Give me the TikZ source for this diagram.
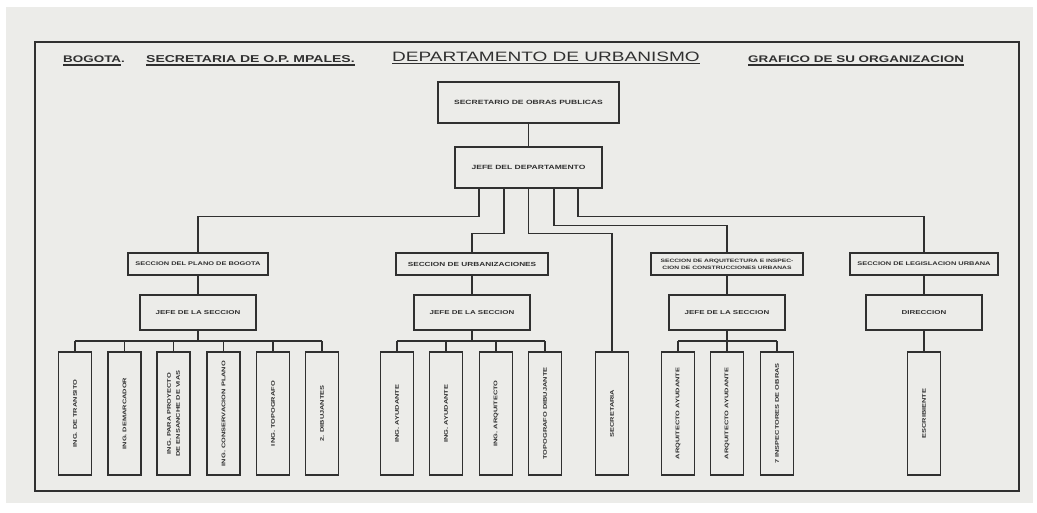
\documentclass[tikz,border=0pt]{standalone}
\usepackage{fontspec}
\newfontfamily\lettering[FakeStretch=1.4]{Liberation Sans}
\usetikzlibrary{calc}
\definecolor{ink}{RGB}{48,48,48}
\definecolor{paper}{RGB}{236,236,233}
\tikzstyle{box}=[rectangle,draw=ink,line width=1.4pt,inner sep=0pt,align=center,text=ink]
\tikzstyle{topbox}=[box,minimum height=41pt,font=\lettering\bfseries\fontsize{6.1}{7.4}\selectfont]
\tikzstyle{secbox}=[box,minimum height=22pt,font=\lettering\bfseries\fontsize{5.3}{6.6}\selectfont]
\tikzstyle{jefebox}=[box,minimum width=116pt,minimum height=35pt,font=\lettering\bfseries\fontsize{5.7}{7}\selectfont]
\tikzstyle{posbox}=[box,rotate=90,minimum width=123pt,minimum height=33pt,font=\lettering\bfseries\fontsize{5.3}{9}\selectfont]
\tikzstyle{head}=[text=ink,inner xsep=0pt,inner ysep=2.5pt,anchor=base west,font=\lettering\bfseries\fontsize{9.6}{11}\selectfont]
\tikzstyle{link}=[draw=ink,line width=1.2pt]

\begin{document}
\begin{tikzpicture}[x=1pt,y=-1pt]
    \useasboundingbox (0,0) rectangle (1037,512);
    \fill[white] (0,0) rectangle (1037,512);
    \fill[paper] (6,7) rectangle (1033,503);
    \draw[ink,line width=2pt] (35,42) rectangle (1019,491);

    \node[head] (bog) at (63,62) {BOGOTA.};
    \node[head,font=\lettering\bfseries\fontsize{10}{11}\selectfont] (secmp) at (146,62) {SECRETARIA DE O.P. MPALES.};
    \node[head,font=\lettering\fontsize{13.6}{15}\selectfont] (dept) at (392,61) {DEPARTAMENTO DE URBANISMO};
    \node[head] (graf) at (748,62) {GRAFICO DE SU ORGANIZACION};
    \draw[link,line width=1.8pt] (bog.south west) -- ($(bog.south east)+(-4,0)$);
    \draw[link,line width=1.8pt] (secmp.south west) -- (secmp.south east);
    \draw[link] (dept.south west) -- (dept.south east);
    \draw[link,line width=1.8pt] (graf.south west) -- (graf.south east);

    \node[topbox,minimum width=181pt] (secop) at (528.5,102.5) {SECRETARIO DE OBRAS PUBLICAS};
    \node[topbox,minimum width=147pt] (jefedep) at (528.5,167.5) {JEFE DEL DEPARTAMENTO};

    \node[secbox,minimum width=140pt] (sec1) at (198,264) {SECCION DEL PLANO DE BOGOTA};
    \node[secbox,minimum width=152pt,font=\lettering\bfseries\fontsize{5.9}{7}\selectfont] (sec2) at (472,264) {SECCION DE URBANIZACIONES};
    \node[secbox,minimum width=152pt,font=\lettering\bfseries\fontsize{4.8}{7}\selectfont] (sec3) at (727,264) {SECCION DE ARQUITECTURA E INSPEC-\\CION DE CONSTRUCCIONES URBANAS};
    \node[secbox,minimum width=148pt] (sec4) at (924,264) {SECCION DE LEGISLACION URBANA};

    \node[jefebox] (jefe1) at (198,312.5) {JEFE DE LA SECCION};
    \node[jefebox] (jefe2) at (472,312.5) {JEFE DE LA SECCION};
    \node[jefebox] (jefe3) at (727,312.5) {JEFE DE LA SECCION};
    \node[jefebox] (direc) at (924,312.5) {DIRECCION};

    \foreach \x/\t [count=\i] in {75/{ING. DE TRANSITO}, 124.5/{ING. DEMARCADOR},
        173.5/{ING. PARA PROYECTO\\DE ENSANCHE DE VIAS}, 223.5/{ING. CONSERVACION PLANO},
        273/{ING. TOPOGRAFO}, 322/{2. DIBUJANTES}} {
        \node[posbox] (a\i) at (\x,413.5) {\t};
    };
    \foreach \x/\t [count=\i] in {397/{ING. AYUDANTE}, 446/{ING. AYUDANTE},
        496/{ING. ARQUITECTO}, 545/{TOPOGRAFO DIBUJANTE}} {
        \node[posbox] (b\i) at (\x,413.5) {\t};
    };
    \foreach \x/\t [count=\i] in {678/{ARQUITECTO AYUDANTE}, 727/{ARQUITECTO AYUDANTE},
        777/{7 INSPECTORES DE OBRAS}} {
        \node[posbox] (c\i) at (\x,413.5) {\t};
    };
    \node[posbox] (secr) at (612,413.5) {SECRETARIA};
    \node[posbox] (escr) at (924,413.5) {ESCRIBIENTE};

    \draw[link] (secop) -- (jefedep);
    \draw[link] ($(jefedep.south)+(-49.5,0)$) -- ++(0,28) -| (sec1.north);
    \draw[link] ($(jefedep.south)+(-24.5,0)$) -- ++(0,45) -| (sec2.north);
    \draw[link] (jefedep.south) -- ++(0,45) -| (secr.east);
    \draw[link] ($(jefedep.south)+(25.5,0)$) -- ++(0,37) -| (sec3.north);
    \draw[link] ($(jefedep.south)+(49.5,0)$) -- ++(0,28) -| (sec4.north);

    \draw[link] (sec1) -- (jefe1);
    \draw[link] (sec2) -- (jefe2);
    \draw[link] (sec3) -- (jefe3);
    \draw[link] (sec4) -- (direc);
    \draw[link] (direc) -- (escr);

    \coordinate (bus1) at (198,341);
    \coordinate (bus2) at (472,341);
    \coordinate (bus3) at (727,341);
    \draw[link] (jefe1) -- (bus1);
    \draw[link] (jefe2) -- (bus2);
    \draw[link] (jefe3) -- (bus3);
    \draw[link] (bus1 -| a1) -- (bus1 -| a6);
    \draw[link] (bus2 -| b1) -- (bus2 -| b4);
    \draw[link] (bus3 -| c1) -- (bus3 -| c3);
    \foreach \i in {1,...,6} \draw[link] (bus1 -| a\i) -- (a\i);
    \foreach \i in {1,...,4} \draw[link] (bus2 -| b\i) -- (b\i);
    \foreach \i in {1,...,3} \draw[link] (bus3 -| c\i) -- (c\i);
\end{tikzpicture}
\end{document}
